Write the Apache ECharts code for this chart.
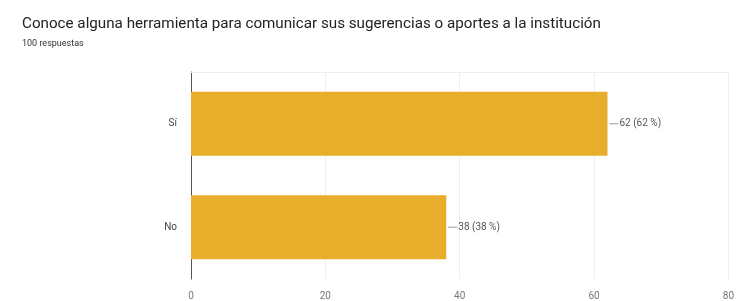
<!DOCTYPE html>
<html>
<head>
<meta charset="utf-8">
<script src="https://cdn.jsdelivr.net/npm/echarts@6/dist/echarts.min.js"></script>
<style>
  html, body { margin: 0; padding: 0; background: #fff; }
  #chart { width: 737px; height: 301px; }
</style>
</head>
<body>
<div id="chart"></div>
<script type="text/javascript">
  var categories = ['Sí', 'No'];
  var values = [62, 38];
  var percents = [62, 38];
  var xTicks = [0, 20, 40, 60, 80];

  var chart = echarts.init(document.getElementById('chart'));
  var option = {
    textStyle: { fontFamily: 'Roboto' },
    title: {
      text: 'Conoce alguna herramienta para comunicar sus sugerencias o aportes a la institución',
      subtext: '100 respuestas',
      left: 17,
      top: 12,
      itemGap: 7,
      textStyle: { fontSize: 15.2, fontWeight: 'normal', color: '#222', fontFamily: 'Roboto' },
      subtextStyle: { fontSize: 9, color: '#333', fontFamily: 'Roboto' }
    },
    grid: { left: 191, right: 5, top: 72, bottom: 19 },
    xAxis: [{
      type: 'value',
      min: xTicks[0],
      max: xTicks[xTicks.length - 1],
      interval: 20,
      axisLine: { show: false },
      axisTick: { show: false },
      axisLabel: { color: '#777', fontSize: 10, margin: 12 },
      splitLine: { lineStyle: { color: '#eeeeee', width: 1 } }
    }, {
      type: 'value',
      position: 'top',
      min: 0, max: 80,
      axisLine: { show: true, lineStyle: { color: '#eeeeee' } },
      axisTick: { show: false },
      axisLabel: { show: false },
      splitLine: { show: false }
    }],
    yAxis: {
      type: 'category',
      data: categories,
      inverse: true,
      axisLine: { show: true, lineStyle: { color: '#555', width: 1 } },
      axisTick: { show: false },
      axisLabel: { color: '#444', fontSize: 10, margin: 14 }
    },
    series: [{
      type: 'bar',
      data: values,
      barCategoryGap: '38%',
      itemStyle: { color: '#e9ad2c' },
      label: {
        show: true,
        position: 'right',
        distance: 2,
        color: '#555',
        fontSize: 10,
        formatter: function (p) {
          return '{hr|}{t|' + p.value + ' (' + percents[p.dataIndex] + ' %)}';
        },
        rich: {
          hr: { width: 9, height: 0, borderWidth: 0.6, borderColor: '#999' },
          t: { color: '#555', fontSize: 10, padding: [0, 0, 0, 1] }
        }
      }
    }]
  };
  chart.setOption(option);
</script>
</body>
</html>
